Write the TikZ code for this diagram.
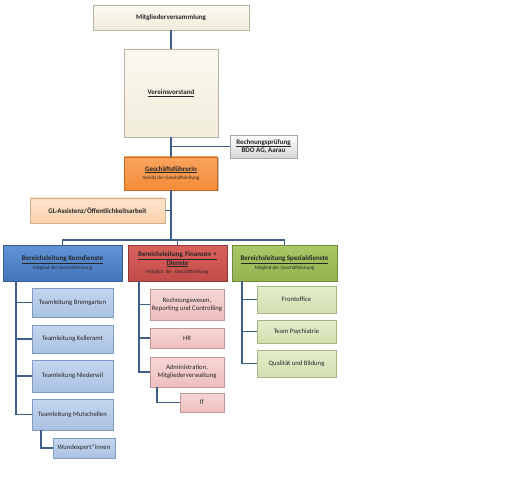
\documentclass[tikz,border=0pt]{standalone}
\usepackage{fontspec}
\setmainfont{Carlito}
\usetikzlibrary{shadows}
\definecolor{linec}{HTML}{3D5F8A}
\definecolor{creamT}{HTML}{FBF9F1}
\definecolor{creamB}{HTML}{F1ECDA}
\definecolor{creamD}{HTML}{B8B3A3}
\definecolor{grayT}{HTML}{FFFFFF}
\definecolor{grayB}{HTML}{D6D6D6}
\definecolor{grayD}{HTML}{A6A6A6}
\definecolor{orT}{HTML}{F9A45E}
\definecolor{orB}{HTML}{F38B39}
\definecolor{orD}{HTML}{C46A20}
\definecolor{peT}{HTML}{FDE3CB}
\definecolor{peB}{HTML}{FAD3AE}
\definecolor{peD}{HTML}{D6B08C}
\definecolor{blT}{HTML}{6293D6}
\definecolor{blB}{HTML}{4275BB}
\definecolor{blD}{HTML}{385D8A}
\definecolor{rdT}{HTML}{D9615D}
\definecolor{rdB}{HTML}{C24B48}
\definecolor{rdD}{HTML}{8C3836}
\definecolor{gnT}{HTML}{A9C866}
\definecolor{gnB}{HTML}{93B350}
\definecolor{gnD}{HTML}{71893F}
\definecolor{lbT}{HTML}{C5D7EE}
\definecolor{lbB}{HTML}{A9C1E2}
\definecolor{lbD}{HTML}{7F9CC4}
\definecolor{lrT}{HTML}{F6D6D5}
\definecolor{lrB}{HTML}{EDBFBE}
\definecolor{lrD}{HTML}{C49796}
\definecolor{lgT}{HTML}{E3EDCC}
\definecolor{lgB}{HTML}{D1E0AF}
\definecolor{lgD}{HTML}{A6B882}
\definecolor{txt}{HTML}{262626}
\tikzset{
  orgbox/.style={rectangle, inner sep=1pt, align=center, line width=0.5pt,
    text=txt, drop shadow={shadow xshift=1pt, shadow yshift=-1.3pt, opacity=0.35, fill=black!70}},
  creambox/.style={orgbox, draw=creamD, top color=creamT, bottom color=creamB},
  graybox/.style={orgbox, draw=grayD, top color=grayT, bottom color=grayB},
  orbox/.style={orgbox, draw=orD, top color=orT, bottom color=orB},
  pebox/.style={orgbox, draw=peD, top color=peT, bottom color=peB},
  blbox/.style={orgbox, draw=blD, top color=blT, bottom color=blB},
  rdbox/.style={orgbox, draw=rdD, top color=rdT, bottom color=rdB},
  gnbox/.style={orgbox, draw=gnD, top color=gnT, bottom color=gnB},
  lbbox/.style={orgbox, draw=lbD, top color=lbT, bottom color=lbB},
  lrbox/.style={orgbox, draw=lrD, top color=lrT, bottom color=lrB},
  lgbox/.style={orgbox, draw=lgD, top color=lgT, bottom color=lgB},
  titlef/.style={font=\fontsize{7}{8.4}\selectfont\bfseries},
  childf/.style={font=\fontsize{6.7}{8}\selectfont},
  conn/.style={draw=linec, line width=1.2pt},
  sz/.style 2 args={minimum width=#1pt, minimum height=#2pt}
}
\newcommand\subt[1]{\\[0.5pt]{\fontsize{5}{6}\selectfont\mdseries #1}}
\begin{document}
\begin{tikzpicture}[x=1pt,y=-1pt]
\useasboundingbox[fill=white] (0,0) rectangle (532,478);

% top level
\node[creambox, titlef, sz={156}{25}] (mv) at (171,17.5) {Mitgliederversammlung};
\node[creambox, titlef, sz={94}{88}] (vv) at (171,93) {\underline{Vereinsvorstand}};
\node[graybox, titlef, sz={67}{23}] (rp) at (263.5,146.5) {\underline{Rechnungsprüfung}\\[0.5pt]BDO AG, Aarau};
\node[orbox, titlef, sz={93}{33}] (gf) at (171,173.5) {\underline{Geschäftsführerin}\subt{Vorsitz der Geschäftsleitung}};
\node[pebox, titlef, sz={135}{25}] (gl) at (97.5,210.5) {GL-Assistenz/Öffentlichkeitsarbeit};

% Bereichsleitungen
\node[blbox, titlef, sz={119}{36}] (bk) at (62.5,263) {\underline{Bereichsleitung Kerndienste}\subt{Mitglied der Geschäftsleitung}};
\node[rdbox, titlef, sz={99}{36}, text width=92pt] (bf) at (177.5,263) {\underline{Bereichsleitung Finanzen +}\\[0.5pt]\underline{Dienste}\subt{Mitglied der Geschäftsleitung}};
\node[gnbox, titlef, sz={105}{36}] (bs) at (284.5,263) {\underline{Bereichsleitung Spezialdienste}\subt{Mitglied der Geschäftsleitung}};

% Kerndienste children
\node[lbbox, childf, sz={81}{29}] (k1) at (72.5,302.5) {Teamleitung Bremgarten};
\node[lbbox, childf, sz={81}{28}] (k2) at (72.5,339) {Teamleitung Kelleramt};
\node[lbbox, childf, sz={81}{32}] (k3) at (72.5,376) {Teamleitung Niederwil};
\node[lbbox, childf, sz={81}{31}] (k4) at (72.5,414.5) {Teamleitung Mutschellen};
\node[lbbox, childf, sz={62}{20}] (k5) at (84,448) {Wundexpert*innen};

% Finanzen children
\node[lrbox, childf, sz={74}{31}] (f1) at (187,304.5) {Rechnungswesen,\\Reporting und Controlling};
\node[lrbox, childf, sz={74}{20}] (f2) at (187,338) {HR};
\node[lrbox, childf, sz={74}{30}] (f3) at (187,372) {Administration,\\Mitgliederverwaltung};
\node[lrbox, childf, sz={44}{19}] (f4) at (202,402.5) {IT};

% Spezialdienste children
\node[lgbox, childf, sz={79}{27}] (s1) at (296.5,299.5) {Frontoffice};
\node[lgbox, childf, sz={79}{23}] (s2) at (296.5,331.5) {Team Psychiatrie};
\node[lgbox, childf, sz={79}{27}] (s3) at (296.5,363.5) {Qualität und Bildung};

% connectors
\coordinate (bus) at (171,240);
\coordinate (kx) at (16,281);
\coordinate (fx) at (139,281);
\coordinate (sx) at (242,281);
\coordinate (kk) at (41,430);
\coordinate (ff) at (157,387);
\draw[conn] (mv.south) -- (vv.north);
\draw[conn] (vv.south) -- (gf.north);
\draw[conn] (rp.west) -- (rp.west -| vv.south);
\draw[conn] (gf.south) -- (bus);
\draw[conn] (gl.east) -- (gl.east -| gf.south);
\draw[conn] (bk.north) |- (bus) -| (bs.north);
\draw[conn] (bus) -| (bf.north);
\foreach \n in {k1,k2,k3,k4} \draw[conn] (kx) |- (\n.west);
\foreach \n in {f1,f2,f3} \draw[conn] (fx) |- (\n.west);
\foreach \n in {s1,s2,s3} \draw[conn] (sx) |- (\n.west);
\draw[conn] (kk) |- (k5.west);
\draw[conn] (ff) |- (f4.west);
\end{tikzpicture}
\end{document}
